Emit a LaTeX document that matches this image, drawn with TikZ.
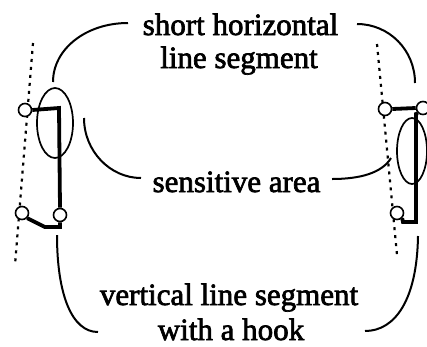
\documentclass[tikz,border=0pt]{standalone}
\usepackage{fontspec}
\usetikzlibrary{shapes.geometric}
\setmainfont{Liberation Serif}[BoldFont={Liberation Serif},BoldFeatures={FakeBold=2.2}]
\begin{document}
\begin{tikzpicture}[x=1pt,y=-1pt,
  lab/.style={font=\bfseries\fontsize{31}{34}\selectfont, anchor=base, inner sep=0pt},
  brace/.style={line width=2pt},
  stroke/.style={line width=3.8pt, line join=miter},
  ring/.style={circle, draw, line width=1.6pt, minimum size=13pt, inner sep=0pt, fill=white},
  dots/.style={line width=2.2pt, dash pattern=on 3pt off 5pt},
  area/.style={line width=1.7pt}]
\useasboundingbox (0,0) rectangle (427,346);
% texts
\node[lab] (t1) at (240.5,35) {short horizontal};
\node[lab] (t2) at (239,68) {line segment};
\node[lab] (t3) at (236.5,192) {sensitive area};
\node[lab] (t4) at (229,305) {vertical line segment};
\node[lab] (t5) at (231,340) {with a hook};
% dotted guide lines
\coordinate (dl1) at (33,43);
\coordinate (dl2) at (15,265);
\coordinate (dr1) at (377,44);
\coordinate (dr2) at (397,255);
\draw[dots] (dl1) -- (dl2);
\draw[dots] (dr1) -- (dr2);
% sensitive areas
\node[draw, area, ellipse, minimum width=36pt, minimum height=70pt, inner sep=0pt] (e1) at (55,123) {};
\node[draw, area, ellipse, minimum width=30pt, minimum height=66pt, inner sep=0pt] (e2) at (412,151) {};
% left stroke
\node[ring] (la) at (25,110) {};
\node[ring] (lb) at (60,215) {};
\node[ring] (lc) at (22,213) {};
\coordinate (lk1) at (59,108);
\coordinate (lk2) at (60,227);
\coordinate (lk3) at (45,227);
\draw[stroke] (la.east) -- (lk1) -- (lb.north);
\draw[stroke] (lb.south) -- (lk2) -- (lk3) -- (lc.south east);
% right stroke
\node[ring] (ra) at (385,109) {};
\node[ring] (rb) at (423,108) {};
\node[ring] (rc) at (397,213) {};
\coordinate (rk1) at (416,114);
\coordinate (rk2) at (416,222);
\coordinate (rk3) at (403,222);
\draw[stroke] (ra.east) -- (rb.west);
\draw[stroke] (rb.south west) -- (rk1) -- (rk2) -- (rk3) -- (rc.south east);
% brackets
\coordinate (b1a) at (128,23);  \coordinate (b1b) at (53,82);
\coordinate (b2a) at (357,24);  \coordinate (b2b) at (415,83);
\coordinate (b3a) at (84,118);  \coordinate (b3b) at (141,178);
\coordinate (b4a) at (332,179); \coordinate (b4b) at (391,158);
\coordinate (b5a) at (57,235);  \coordinate (b5b) at (98,332);
\coordinate (b6a) at (418,236); \coordinate (b6b) at (365,331);
\draw[brace] (b1a) .. controls (86,23) and (53,49) .. (b1b);
\draw[brace] (b2a) .. controls (389,24) and (415,50) .. (b2b);
\draw[brace] (b3a) .. controls (84,151) and (110,178) .. (b3b);
\draw[brace] (b4a) .. controls (360,179) and (382,173) .. (b4b);
\draw[brace] (b5a) .. controls (57,295) and (72,332) .. (b5b);
\draw[brace] (b6a) .. controls (417,300) and (395,331) .. (b6b);
\end{tikzpicture}
\end{document}
